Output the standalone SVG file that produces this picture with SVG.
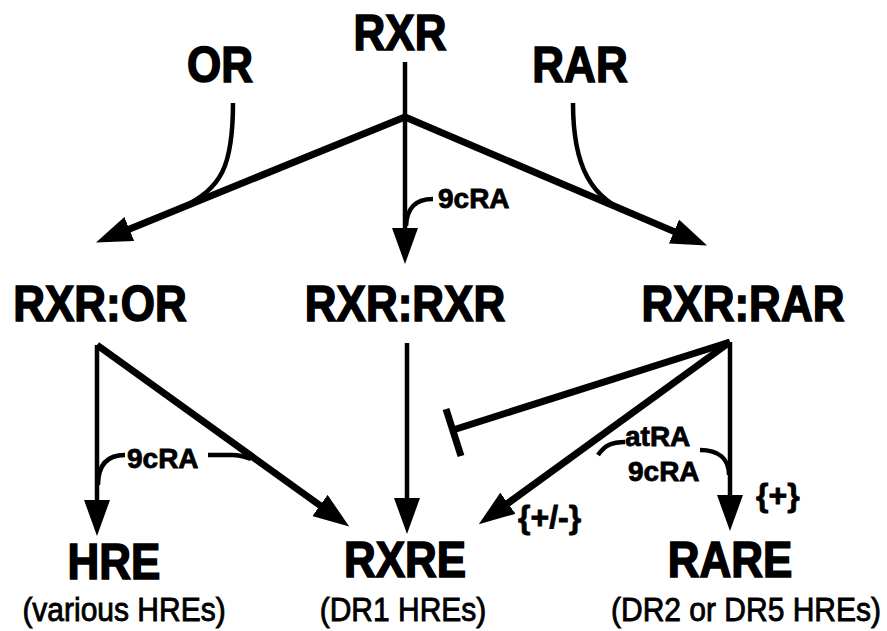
<svg xmlns="http://www.w3.org/2000/svg" width="887" height="631" viewBox="0 0 887 631">
<style>
.big{font-family:"Liberation Sans",Arial,sans-serif;font-weight:bold;font-size:44px;fill:#000;stroke:#000;stroke-width:1.4;text-anchor:middle}
.sub{font-family:"Liberation Sans",Arial,sans-serif;font-size:30px;fill:#000;stroke:#000;stroke-width:0.8;text-anchor:middle}
.lab{font-family:"Liberation Sans",Arial,sans-serif;font-weight:bold;font-size:28px;fill:#000;stroke:#000;stroke-width:0.8}
.brace{font-size:32px}
.thick{stroke:#000;stroke-width:7;fill:none}
.thin{stroke:#000;stroke-width:4.5;fill:none}
.arr{marker-end:url(#ah)}
</style>
<defs>
<marker id="ah" markerUnits="userSpaceOnUse" viewBox="0 -13 36 26" refX="1" refY="0" markerWidth="36" markerHeight="26" orient="auto">
<path d="M0,-13 L36,0 L0,13 z" fill="#000"/>
</marker>
</defs>
<rect width="887" height="631" fill="#fff"/>
<g id="connectors">
<line class="thin" x1="405" y1="62" x2="405" y2="117"/>
<line class="thick arr" x1="405" y1="117" x2="128.4" y2="229.4"/>
<line class="thick arr" x1="405" y1="117" x2="674.9" y2="231.9"/>
<line class="thin arr" x1="405" y1="117" x2="405" y2="229"/>
<path class="thin" d="M233,103 C233,165 222,190 180,208"/>
<path class="thin" d="M573,103 C573,165 590,200 635,215"/>
<path class="thin" d="M433,199 C416,199 407,207 406,226"/>
<line class="thin arr" x1="97" y1="345" x2="97" y2="501"/>
<line class="thick arr" x1="97" y1="345" x2="320.8" y2="506"/>
<path class="thin" d="M208,455 L232,455 C240,455 246,457 251,459"/>
<path class="thin" d="M125,455 C107,455 98,465 98,485"/>
<line class="thin arr" x1="407" y1="343" x2="407" y2="499"/>
<line class="thick" x1="730" y1="342" x2="453" y2="430"/>
<line class="thick" x1="446" y1="409" x2="461" y2="456"/>
<line class="thick arr" x1="730" y1="342" x2="507.1" y2="503.8"/>
<line class="thin arr" x1="730" y1="342" x2="730" y2="496"/>
<path class="thin" d="M598,455 C605,445 612,442 625,442"/>
<path class="thin" d="M700,450 C718,450 729,458 729,475"/>
</g>
<g id="RXR"><text class="big" transform="translate(400,50) scale(1,1.15)">RXR</text></g>
<g id="OR"><text class="big" transform="translate(220,82) scale(1,1.15)">OR</text></g>
<g id="RAR"><text class="big" transform="translate(580,82) scale(1,1.15)">RAR</text></g>
<g id="RXR-OR"><text class="big" transform="translate(100,321) scale(1,1.15)">RXR:OR</text></g>
<g id="RXR-RXR"><text class="big" transform="translate(405,321) scale(1,1.15)">RXR:RXR</text></g>
<g id="RXR-RAR"><text class="big" transform="translate(743,321) scale(1,1.15)">RXR:RAR</text></g>
<g id="HRE"><text class="big" transform="translate(114,579) scale(1,1.15)">HRE</text><text class="sub" transform="translate(124,621) scale(1,1.1)">(various HREs)</text></g>
<g id="RXRE"><text class="big" transform="translate(405,577) scale(1,1.15)">RXRE</text><text class="sub" transform="translate(403,621) scale(1,1.1)">(DR1 HREs)</text></g>
<g id="RARE"><text class="big" transform="translate(730,577) scale(1,1.15)">RARE</text><text class="sub" transform="translate(746,621) scale(1,1.1)">(DR2 or DR5 HREs)</text></g>
<g id="labels">
<text class="lab" x="438" y="208">9cRA</text>
<text class="lab" x="127" y="468">9cRA</text>
<text class="lab" x="625" y="446">atRA</text>
<text class="lab" x="628" y="481">9cRA</text>
<text class="lab brace" x="518" y="528">{+/-}</text>
<text class="lab brace" x="756" y="506">{+}</text>
</g>
</svg>
